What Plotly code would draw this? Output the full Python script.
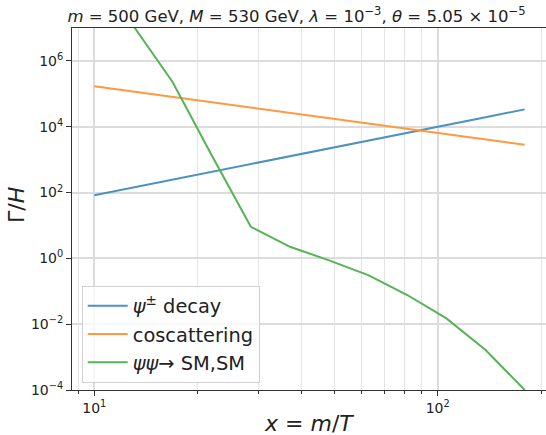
import plotly.graph_objects as go

# data
x_vals = [10.0, 13.0, 16.9, 21.97, 28.56, 37.13, 48.27, 62.75, 81.57, 106.04, 137.86, 179.2]
decay = [83, 144, 248, 428, 738, 1274, 2198, 3793, 6546, 11300, 19500, 33650]
coscat = [1.71e5, 1.175e5, 8.09e4, 5.58e4, 3.85e4, 2.65e4, 1.82e4, 1.256e4, 8.67e3, 5.97e3, 4.11e3, 2.83e3]
annih = [3e9, 1.15e7, 2.3e5, 1.36e3, 9.1, 2.25, 0.87, 0.31, 0.077, 0.015, 1.64e-3, 1.0e-4]

names = ["<i>ψ</i><sup>±</sup> decay", "coscattering", "<i>ψψ</i>→ SM,SM"]
colors = ["rgb(76,146,195)", "rgb(255,152,62)", "rgb(86,179,86)"]

x_tickvals = [10, 100]
x_ticktext = ["10<sup>1</sup>", "10<sup>2</sup>"]
x_minor = [9, 20, 30, 40, 50, 60, 70, 80, 90, 200]
y_tickvals = [1e-4, 1e-2, 1, 1e2, 1e4, 1e6]
y_ticktext = ["10<sup>−4</sup>", "10<sup>−2</sup>", "10<sup>0</sup>", "10<sup>2</sup>", "10<sup>4</sup>", "10<sup>6</sup>"]

FONT = "DejaVu Sans"

fig = go.Figure()
for y, n, c in zip([decay, coscat, annih], names, colors):
    fig.add_trace(go.Scatter(x=x_vals, y=y, mode="lines", name=n,
                             line=dict(color=c, width=2)))

fig.update_layout(
    width=546, height=435,
    margin=dict(l=72, r=0, t=28, b=45),
    paper_bgcolor="white", plot_bgcolor="white",
    font=dict(family=FONT, size=14, color="#222"),
    title=dict(text="<i>m</i> = 500 GeV, <i>M</i> = 530 GeV, <i>λ</i> = 10<sup>−3</sup>, <i>θ</i> = 5.05 × 10<sup>−5</sup>",
               x=0.543, xanchor="center", y=0.962, yanchor="middle",
               font=dict(family=FONT, size=16.5, color="#222")),
    showlegend=True,
    legend=dict(x=0.0205, y=0.288, xanchor="left", yanchor="top",
                bgcolor="rgba(255,255,255,0.8)", bordercolor="#d0d0d0", borderwidth=1,
                font=dict(family=FONT, size=19.4, color="#222"), itemwidth=40),
)

fig.update_xaxes(type="log", range=[0.935, 2.3154],
                 tickmode="array", tickvals=x_tickvals, ticktext=x_ticktext,
                 showline=True, linecolor="#333", linewidth=1, mirror=True,
                 ticks="outside", ticklen=5, tickcolor="#333",
                 showgrid=True, gridcolor="#dcdcdc", gridwidth=1.6,
                 minor=dict(tickmode="array", tickvals=x_minor, ticks="outside", ticklen=3,
                            tickcolor="#333", showgrid=True, gridcolor="#e4e4e4", gridwidth=0.9),
                 zeroline=False)
fig.update_yaxes(type="log", range=[-4, 7],
                 tickmode="array", tickvals=y_tickvals, ticktext=y_ticktext,
                 showline=True, linecolor="#333", linewidth=1, mirror=False,
                 ticks="outside", ticklen=5, tickcolor="#333",
                 showgrid=True, gridcolor="#dcdcdc", gridwidth=1.6,
                 zeroline=False)

fig.add_annotation(text="<i>x</i> = <i>m</i>/<i>T</i>", xref="paper", yref="paper",
                   x=0.5, y=-0.092, xanchor="center", yanchor="middle", showarrow=False,
                   font=dict(family=FONT, size=22, color="#222"))
fig.add_annotation(text="Γ/<i>H</i>", xref="paper", yref="paper",
                   x=-0.117, y=0.51, xanchor="center", yanchor="middle", showarrow=False,
                   textangle=-90, font=dict(family=FONT, size=22, color="#222"))

fig.write_html("out.html", config={"displayModeBar": False},
               post_script="document.body.style.margin='0';document.body.style.overflow='hidden';")
